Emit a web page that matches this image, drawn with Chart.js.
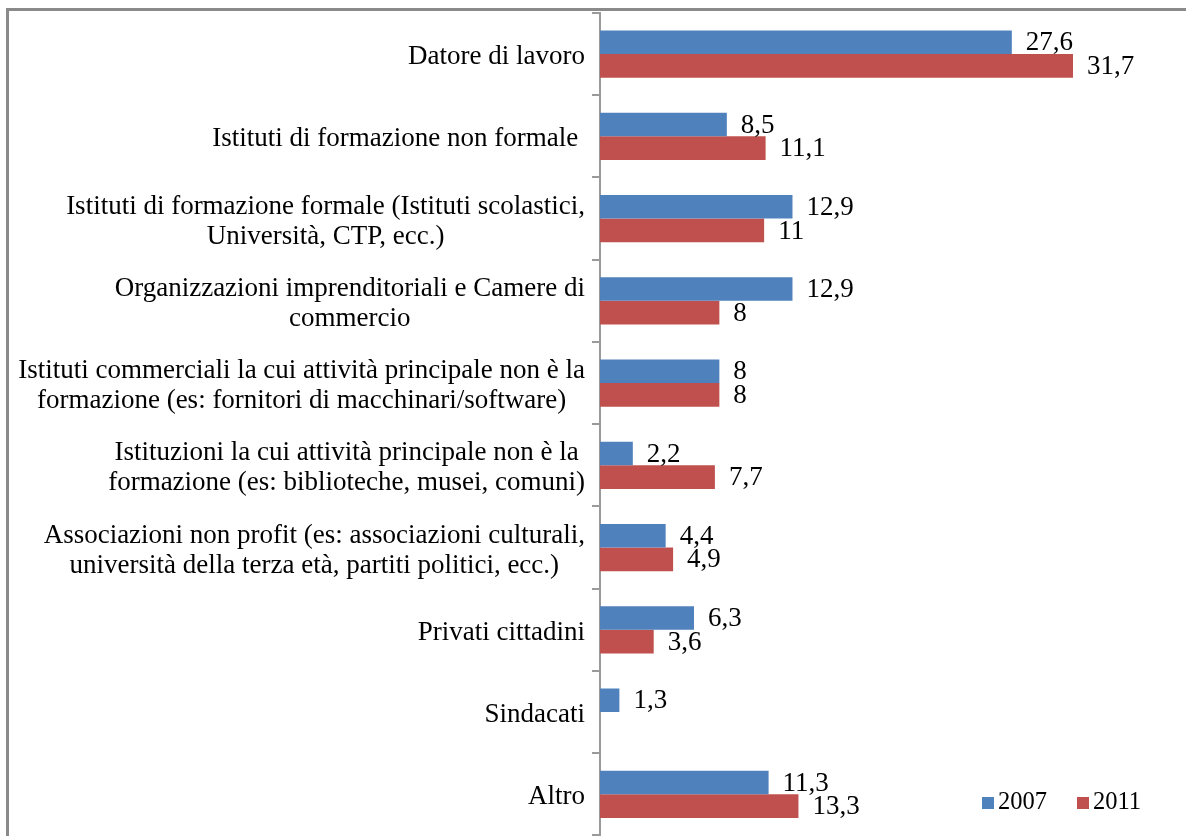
<!DOCTYPE html>
<html>
<head>
<meta charset="utf-8">
<script src="https://cdn.jsdelivr.net/npm/chart.js@4.4.1/dist/chart.umd.min.js"></script>
<style>
  body { margin: 0; background: #fff; }
  #wrap { position: relative; width: 1186px; height: 836px; overflow: hidden; }
  #frame { position: absolute; left: 6px; top: 8px; width: 1300px; height: 900px;
           border-top: 3px solid #8a8a8a; border-left: 3px solid #8a8a8a; pointer-events: none; }
</style>
</head>
<body>
<div id="wrap">
  <canvas id="chart" width="1186" height="836"></canvas>
  <div id="frame"></div>
</div>
<script>
const categories = [
    'Datore di lavoro',
    'Istituti di formazione non formale ',
    ['Istituti di formazione formale (Istituti scolastici,', 'Università, CTP, ecc.)'],
    ['Organizzazioni imprenditoriali e Camere di', 'commercio'],
    ['Istituti commerciali la cui attività principale non è la', 'formazione (es: fornitori di macchinari/software)'],
    ['Istituzioni la cui attività principale non è la', 'formazione (es: biblioteche, musei, comuni)'],
    ['Associazioni non profit (es: associazioni culturali,', 'università della terza età, partiti politici, ecc.)'],
    'Privati cittadini',
    'Sindacati',
    'Altro'
];
const values2007 = [27.6, 8.5, 12.9, 12.9, 8, 2.2, 4.4, 6.3, 1.3, 11.3];
const values2011 = [31.7, 11.1, 11, 8, 8, 7.7, 4.9, 3.6, null, 13.3];
const seriesNames = ['2007', '2011'];

const BLUE = '#4F81BD';
const RED = '#C0504D';
const FONT = "'Liberation Serif', 'Times New Roman', serif";
const FS = 27;
const LEGEND_FS = 24.5;

// category labels: right-aligned block, lines centred inside it
const catLabels = {
    id: 'catLabels',
    afterDraw(chart) {
        const ctx = chart.ctx;
        const y = chart.scales.y;
        const rightEdge = 585;
        const lh = 30;
        ctx.save();
        ctx.font = FS + 'px ' + FONT;
        ctx.fillStyle = '#000';
        ctx.textBaseline = 'middle';
        ctx.textAlign = 'center';
        categories.forEach((c, i) => {
            const lines = Array.isArray(c) ? c : [c];
            const w = Math.max(...lines.map(l => ctx.measureText(l).width));
            const cx = rightEdge - w / 2;
            const cy = y.getPixelForValue(i);
            const y0 = cy - (lines.length - 1) * lh / 2 + 3;
            lines.forEach((l, k) => ctx.fillText(l, cx, y0 + k * lh));
        });
        ctx.restore();
    }
};

// value labels just after the bar ends
const valueLabels = {
    id: 'valueLabels',
    afterDatasetsDraw(chart) {
        const ctx = chart.ctx;
        ctx.save();
        ctx.font = FS + 'px ' + FONT;
        ctx.fillStyle = '#000';
        ctx.textBaseline = 'middle';
        ctx.textAlign = 'left';
        chart.data.datasets.forEach((ds, di) => {
            chart.getDatasetMeta(di).data.forEach((bar, i) => {
                const v = ds.data[i];
                if (v === null || v === undefined) return;
                ctx.fillText(String(v).replace('.', ','), bar.x + 14, bar.y + 1);
            });
        });
        ctx.restore();
    }
};

// legend in the bottom-right corner of the plot
const cornerLegend = {
    id: 'cornerLegend',
    afterDraw(chart) {
        const ctx = chart.ctx;
        ctx.save();
        ctx.font = LEGEND_FS + 'px ' + FONT;
        ctx.textBaseline = 'middle';
        ctx.textAlign = 'left';
        let x = 982;
        const yy = 803;
        chart.data.datasets.forEach((ds) => {
            ctx.fillStyle = ds.backgroundColor;
            ctx.fillRect(x, yy - 6, 12, 12);
            ctx.fillStyle = '#000';
            ctx.fillText(ds.label, x + 16, yy);
            x += 95;
        });
        ctx.restore();
    }
};

const ctx = document.getElementById('chart').getContext('2d');
const chart = new Chart(ctx, {
    type: 'bar',
    data: {
        labels: categories,
        datasets: [
            { label: seriesNames[0], data: values2007, backgroundColor: BLUE },
            { label: seriesNames[1], data: values2011, backgroundColor: RED }
        ]
    },
    options: {
        indexAxis: 'y',
        responsive: false,
        animation: false,
        layout: { padding: { top: 13, right: 19, left: 0, bottom: 0 } },
        datasets: { bar: { categoryPercentage: 0.575, barPercentage: 1.0 } },
        plugins: {
            legend: { display: false },
            tooltip: { enabled: false }
        },
        scales: {
            x: {
                display: false,
                min: 0,
                max: 38
            },
            y: {
                afterFit(scale) { scale.width = 600; },
                border: { display: true, color: '#9a9a9a', width: 2 },
                grid: {
                    drawOnChartArea: false,
                    drawTicks: true,
                    tickLength: 8,
                    color: '#9a9a9a',
                    lineWidth: 2,
                    offset: true
                },
                ticks: {
                    callback: () => '',
                    padding: 0,
                    font: { family: FONT, size: 1 }
                }
            }
        }
    },
    plugins: [catLabels, valueLabels, cornerLegend]
});
</script>
</body>
</html>
